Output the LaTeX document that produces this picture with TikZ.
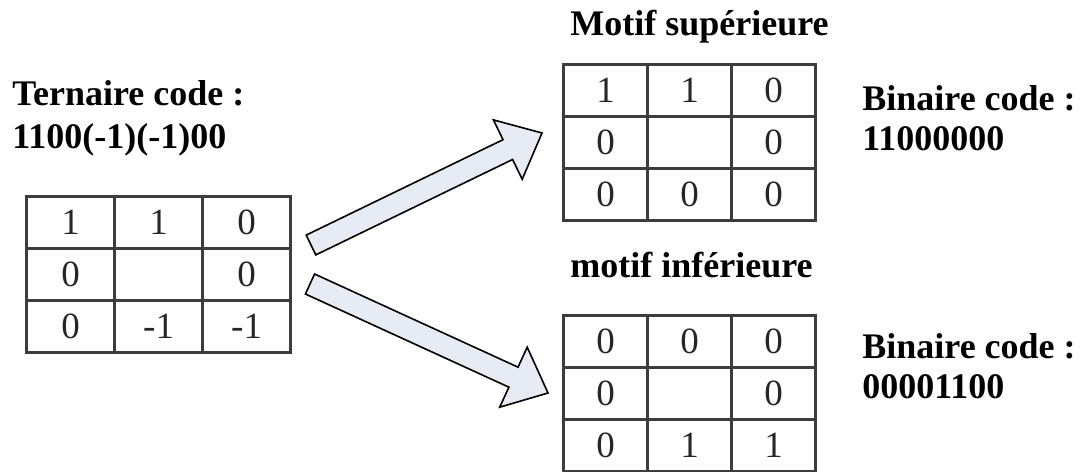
\documentclass[tikz,border=0pt]{standalone}
\usepackage{fontspec}
\setmainfont{Liberation Serif}
\usetikzlibrary{calc,matrix,positioning}

\definecolor{arrowfill}{HTML}{E7ECF4}
\definecolor{gridline}{HTML}{3C3C3C}

\tikzset{
  cellgrid/.style={matrix of nodes, nodes in empty cells, anchor=north west, inner sep=0pt,
    column sep=-1.25pt, row sep=-1.25pt,
    nodes={draw=gridline, line width=1.25pt, minimum width=#1, minimum height=26pt,
      text height=12pt, text depth=0pt, inner sep=0pt, text=black!85,
      font=\fontsize{18.5}{18.5}\selectfont}},
  lbl/.style={font=\bfseries\fontsize{18}{21}\selectfont, anchor=base west, inner sep=0pt},
}

% hollow block arrow from #1 to #2
\newcommand{\fatarrow}[2]{%
  \coordinate (#1c) at ($(#2)!19pt!(#1)$);
  \draw[line width=0.8pt, fill=arrowfill, line join=miter]
    ($(#1)!5.5pt!90:(#2)$) -- ($(#1c)!5.5pt!90:(#2)$) -- ($(#1c)!16.5pt!90:(#2)$) -- (#2)
    -- ($(#1c)!16.5pt!-90:(#2)$) -- ($(#1c)!5.5pt!-90:(#2)$) -- ($(#1)!5.5pt!-90:(#2)$) -- cycle;
}

\begin{document}
\begin{tikzpicture}[x=0.5pt, y=-0.5pt]
  \useasboundingbox (0,0) rectangle (1086,471);

  % ternary pattern
  \node[lbl] (ternaire) at (12,105) {Ternaire code :};
  \node[lbl, below=21.5pt of ternaire.base west, anchor=base west] (tercode) {1100(-1)(-1)00};
  \matrix (ter) [cellgrid=44pt] at (25,195) {
    1 & 1  & 0  \\
    0 &    & 0  \\
    0 & -1 & -1 \\
  };

  % upper pattern
  \node[lbl] (supname) at (570,35) {Motif supérieure};
  \matrix (sup) [cellgrid=42pt] at (562,63) {
    1 & 1 & 0 \\
    0 &   & 0 \\
    0 & 0 & 0 \\
  };
  \node[lbl] (supbin) at (862,110) {Binaire code :};
  \node[lbl, below=20pt of supbin.base west, anchor=base west] (supcode) {11000000};

  % lower pattern
  \node[lbl] (infname) at (570,277) {motif inférieure};
  \matrix (inf) [cellgrid=42pt] at (562,314) {
    0 & 0 & 0 \\
    0 &   & 0 \\
    0 & 1 & 1 \\
  };
  \node[lbl] (infbin) at (862,358) {Binaire code :};
  \node[lbl, below=20pt of infbin.base west, anchor=base west] (infcode) {00001100};

  % arrows
  \coordinate (upfrom) at (311,245);
  \coordinate (upto) at (542,133);
  \coordinate (downfrom) at (310,284);
  \coordinate (downto) at (548,393);
  \fatarrow{upfrom}{upto}
  \fatarrow{downfrom}{downto}
\end{tikzpicture}
\end{document}
